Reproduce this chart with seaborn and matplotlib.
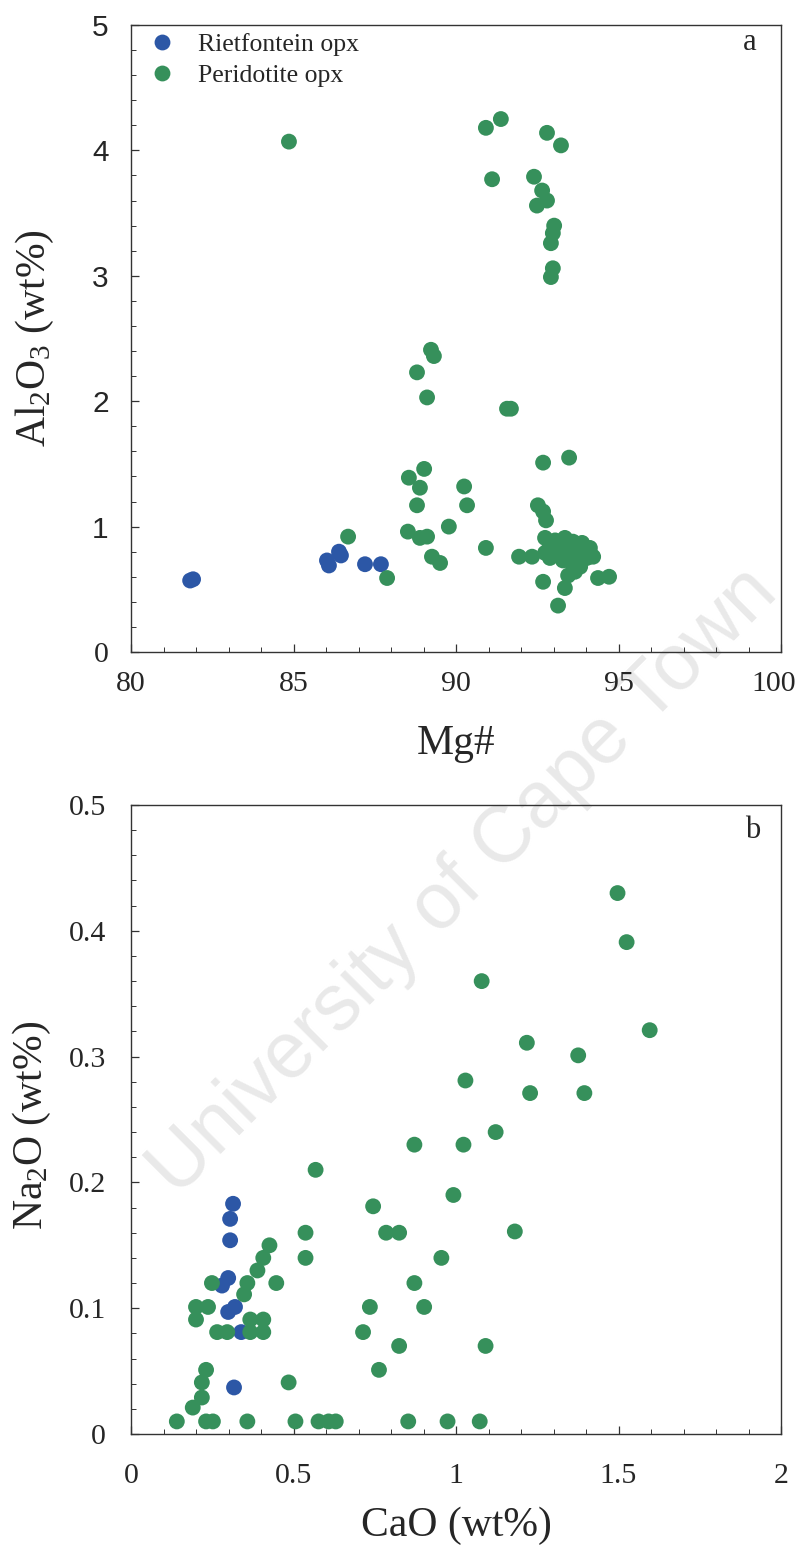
import numpy as np
import pandas as pd
import matplotlib
matplotlib.use("Agg")
import matplotlib.pyplot as plt
from matplotlib.ticker import MultipleLocator
from matplotlib.transforms import ScaledTranslation
import seaborn as sns

# ---------------- data ----------------
# Panel a : Mg# vs Al2O3 (wt%)
riet_mg = [81.82, 81.91, 86.03, 86.09, 86.40, 86.46, 87.20, 87.69]
riet_al = [0.57, 0.58, 0.73, 0.69, 0.80, 0.77, 0.70, 0.70]

perid_mg = [84.86, 90.92, 91.38, 92.80, 93.23, 91.11, 92.40, 92.65, 92.80, 92.49,
            93.02, 92.98, 92.92, 92.98, 92.92, 89.23, 89.32, 88.80, 89.11, 91.57,
            91.69, 92.68, 93.48, 89.02, 88.55, 88.89, 90.25, 88.80, 90.34, 92.52,
            92.68, 92.77, 89.78, 88.52, 88.89, 89.11, 89.26, 89.51, 90.92, 91.94,
            92.34, 87.88, 86.68, 92.68, 93.35, 93.14, 94.37, 94.71,
            92.74, 93.05, 93.35, 93.60, 93.88, 94.12, 94.22, 92.83, 93.20, 93.51,
            93.82, 94.03, 92.89, 93.29, 93.60, 93.82, 93.45, 93.66, 92.74]
perid_al = [4.07, 4.18, 4.25, 4.14, 4.04, 3.77, 3.79, 3.68, 3.60, 3.56,
            3.40, 3.34, 3.26, 3.06, 2.99, 2.41, 2.36, 2.23, 2.03, 1.94,
            1.94, 1.51, 1.55, 1.46, 1.39, 1.31, 1.32, 1.17, 1.17, 1.17,
            1.12, 1.05, 1.00, 0.96, 0.91, 0.92, 0.76, 0.71, 0.83, 0.76,
            0.76, 0.59, 0.92, 0.56, 0.51, 0.37, 0.59, 0.60,
            0.91, 0.89, 0.91, 0.88, 0.87, 0.83, 0.76, 0.81, 0.81, 0.80,
            0.79, 0.75, 0.75, 0.73, 0.69, 0.68, 0.61, 0.64, 0.79]

# Panel b : CaO (wt%) vs Na2O (wt%)
riet_cao = [0.314, 0.305, 0.305, 0.299, 0.280, 0.320, 0.299, 0.339, 0.317]
riet_na = [0.183, 0.171, 0.154, 0.124, 0.118, 0.101, 0.097, 0.081, 0.037]

perid_cao = [0.568, 0.745, 0.785, 0.825, 0.537, 0.537, 0.426, 0.407, 0.389, 0.358,
             0.348, 0.447, 0.249, 0.200, 0.237, 0.200, 0.265, 0.296, 0.367, 0.407,
             0.367, 0.407, 0.872, 0.902, 0.955, 0.735, 0.714, 0.825, 0.763, 0.231,
             0.218, 0.218, 0.190, 0.485, 0.141, 0.231, 0.252, 0.358, 0.506, 0.577,
             0.608, 0.630, 0.853, 1.122, 1.023, 0.872, 0.992, 1.181, 1.091, 0.974,
             1.073, 1.497, 1.525, 1.079, 1.596, 1.218, 1.029, 1.376, 1.228, 1.395]
perid_na = [0.210, 0.181, 0.160, 0.160, 0.160, 0.140, 0.150, 0.140, 0.130, 0.120,
            0.111, 0.120, 0.120, 0.101, 0.101, 0.091, 0.081, 0.081, 0.091, 0.091,
            0.081, 0.081, 0.120, 0.101, 0.140, 0.101, 0.081, 0.070, 0.051, 0.051,
            0.041, 0.029, 0.021, 0.041, 0.010, 0.010, 0.010, 0.010, 0.010, 0.010,
            0.010, 0.010, 0.010, 0.240, 0.230, 0.230, 0.190, 0.161, 0.070, 0.010,
            0.010, 0.430, 0.391, 0.360, 0.321, 0.311, 0.281, 0.301, 0.271, 0.271]

groups = ["Rietfontein opx", "Peridotite opx"]
palette = {"Rietfontein opx": "#2c57a6", "Peridotite opx": "#36905b"}

xticks_a = [80, 85, 90, 95, 100]
yticks_a = [0, 1, 2, 3, 4, 5]
xticks_b = [0, 0.5, 1, 1.5, 2]
yticks_b = [0, 0.1, 0.2, 0.3, 0.4, 0.5]
xticklabels_b = ["0", "0.5", "1", "1.5", "2"]
yticklabels_b = ["0", "0.1", "0.2", "0.3", "0.4", "0.5"]

df_a = pd.DataFrame({
    "x": riet_mg + perid_mg,
    "y": riet_al + perid_al,
    "group": [groups[0]] * len(riet_mg) + [groups[1]] * len(perid_mg),
})
df_b = pd.DataFrame({
    "x": riet_cao + perid_cao,
    "y": riet_na + perid_na,
    "group": [groups[0]] * len(riet_cao) + [groups[1]] * len(perid_cao),
})

# ---------------- style ----------------
sns.set_style("ticks")
plt.rcParams["font.family"] = ["Liberation Serif", "DejaVu Serif"]
plt.rcParams["mathtext.fontset"] = "custom"
plt.rcParams["mathtext.rm"] = "Liberation Serif"
plt.rcParams["mathtext.it"] = "Liberation Serif:italic"
plt.rcParams["axes.edgecolor"] = "#333333"
plt.rcParams["axes.linewidth"] = 1.0

fig = plt.figure(figsize=(8, 15.48), dpi=100)
ax_a = fig.add_axes([0.16375, 0.57881, 0.8125, 0.40504])
ax_b = fig.add_axes([0.16375, 0.07364, 0.8125, 0.40633])

# watermark
fig.text(0.58, 0.43, "University of Cape Town", rotation=45,
         rotation_mode="anchor", ha="center", va="center",
         fontsize=57, color="#e9e9e9", family="Liberation Sans", zorder=-1)

for ax in (ax_a, ax_b):
    ax.set_facecolor("none")

sns.scatterplot(data=df_a, x="x", y="y", hue="group", hue_order=groups,
                palette=palette, s=130, edgecolor="none", linewidth=0,
                ax=ax_a, legend=True, zorder=3)
sns.scatterplot(data=df_b, x="x", y="y", hue="group", hue_order=groups,
                palette=palette, s=130, edgecolor="none", linewidth=0,
                ax=ax_b, legend=False, zorder=3)

# ---- panel a axes ----
ax_a.set_xlim(80, 100)
ax_a.set_ylim(0, 5)
ax_a.set_xticks(xticks_a)
ax_a.set_xticklabels([str(t) for t in xticks_a])
ax_a.set_yticks(yticks_a)
ax_a.set_yticklabels([str(t) for t in yticks_a])
ax_a.xaxis.set_minor_locator(MultipleLocator(1))
ax_a.yaxis.set_minor_locator(MultipleLocator(0.2))
ax_a.set_xlabel("Mg#", fontsize=30)
ax_a.set_ylabel(r"Al$_2$O$_3$ (wt%)", fontsize=30)
ax_a.text(0.952, 0.972, "a", transform=ax_a.transAxes, fontsize=22,
          ha="center", va="center")

h, l = ax_a.get_legend_handles_labels()
leg = ax_a.legend(h, l, loc="upper left", bbox_to_anchor=(0.0, 1.012),
                  frameon=False,
                  prop={"family": "Liberation Serif", "size": 18.5},
                  handletextpad=0.8, borderaxespad=0.2, labelspacing=0.3,
                  handlelength=1.2, borderpad=0.4, markerscale=1.0)

# ---- panel b axes ----
ax_b.set_xlim(0, 2)
ax_b.set_ylim(0, 0.5)
ax_b.set_xticks(xticks_b)
ax_b.set_xticklabels(xticklabels_b)
ax_b.set_yticks(yticks_b)
ax_b.set_yticklabels(yticklabels_b)
ax_b.xaxis.set_minor_locator(MultipleLocator(0.1))
ax_b.yaxis.set_minor_locator(MultipleLocator(0.02))
ax_b.set_xlabel("CaO (wt%)", fontsize=30)
ax_b.set_ylabel(r"Na$_2$O (wt%)", fontsize=30)
ax_b.text(0.957, 0.960, "b", transform=ax_b.transAxes, fontsize=22,
          ha="center", va="center")

for ax in (ax_a, ax_b):
    ax.tick_params(which="major", direction="in", length=6, width=0.9,
                   labelsize=21.5, top=False, right=False, color="#333333")
    ax.tick_params(which="minor", direction="in", length=3.5, width=0.7,
                   top=False, right=False, color="#333333")
    for s in ax.spines.values():
        s.set_visible(True)

ax_a.tick_params(axis="x", which="major", pad=14)
ax_a.tick_params(axis="y", which="major", pad=16)
ax_b.tick_params(axis="x", which="major", pad=21)
ax_b.tick_params(axis="y", which="major", pad=18)

for lbl in ax_a.get_yticklabels():
    if lbl.get_text() != "0":
        lbl.set_fontfamily("Liberation Sans")

# keep the "100" label inside the figure edge
last = ax_a.get_xticklabels()[-1]
last.set_transform(last.get_transform() +
                   ScaledTranslation(-5 / 72, 0, fig.dpi_scale_trans))

ax_a.yaxis.set_label_coords(-0.115, 0.5)
ax_a.xaxis.set_label_coords(0.5, -0.115)
ax_b.yaxis.set_label_coords(-0.12, 0.49)
ax_b.xaxis.set_label_coords(0.5, -0.115)

fig.savefig("out.png", dpi=100)
